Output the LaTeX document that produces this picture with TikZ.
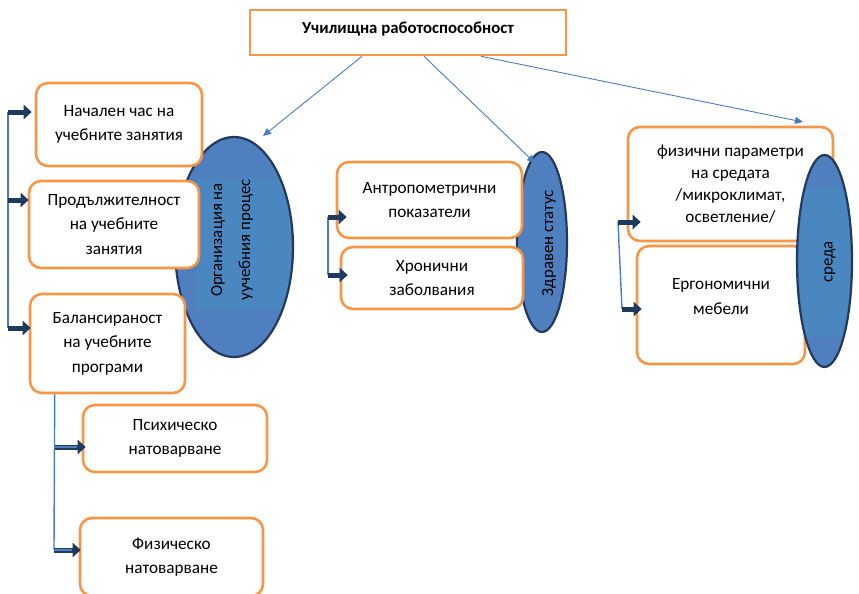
\documentclass[tikz,border=0pt]{standalone}
\usepackage{fontspec}
\setmainfont{Carlito}
\usetikzlibrary{arrows.meta,calc,shapes.geometric}
\definecolor{boxorange}{HTML}{F79646}
\definecolor{ovalblue}{HTML}{4F7FBE}
\definecolor{innerblue}{HTML}{4A87C0}
\definecolor{ovalnavy}{HTML}{213A5E}
\definecolor{linkblue}{HTML}{4A7CC2}
\definecolor{arrownavy}{HTML}{1F3A5F}
\begin{document}
\begin{tikzpicture}[x=1pt,y=-1pt,
  box/.style={draw=boxorange, line width=2.6pt, rounded corners=12pt, fill=white, align=center, inner sep=0pt, font=\fontsize{17.2}{24.5}\selectfont},
  topbox/.style={draw=boxorange, line width=2.6pt, fill=white, inner sep=0pt, font=\bfseries\fontsize{16.8}{18}\selectfont},
  oval/.style={ellipse, draw=ovalnavy, line width=2.2pt, fill=ovalblue, inner sep=0pt},
  ovaltext/.style={rotate=90, align=center, inner sep=0pt, font=\fontsize{16.8}{28}\selectfont},
  thinarrow/.style={draw=linkblue, line width=0.9pt, -{Triangle[length=8pt,width=7pt]}},
  bracket/.style={draw=linkblue, line width=1.4pt},
  fatarrow/.style={draw=arrownavy, line width=5pt, -{Triangle[length=8pt,width=14pt]}},
  fatinner/.style={draw=ovalblue, line width=1.8pt}
]
\useasboundingbox (0,0) rectangle (859,594);

% ovals behind the boxes
\node[oval, minimum width=118pt, minimum height=220pt,
  path picture={\fill[innerblue] ($(path picture bounding box.center)+(-38,-69)$) rectangle ++(95,132);}]
  (E1) at (234,247) {};
\node[ovaltext] (E1t) at (232,240) {Организация на\\уучебния процес};
\node[oval, minimum width=50pt, minimum height=180pt] (E2) at (542,242) {};
\node[ovaltext] (E2t) at (549,243) {Здравен статус};

% title
\node[topbox, minimum width=316pt, minimum height=45pt, text depth=9.5pt] (T) at (408,32.5) {Училищна работоспособност};

% boxes
\node[box, minimum width=166pt, minimum height=83pt] (B1) at (119,124.5) {Начален час на\\учебните занятия};
\node[box, minimum width=170pt, minimum height=87pt] (B2) at (114,224.5) {Продължителност\\на учебните\\занятия};
\node[box, minimum width=155pt, minimum height=99pt] (B3) at (107.5,343.5) {Балансираност\\на учебните\\програми};
\node[box, minimum width=184pt, minimum height=67pt] (B4) at (175,438.5) {Психическо\\натоварване};
\node[box, minimum width=183pt, minimum height=78pt] (B5) at (171.5,557) {Физическо\\натоварване};
\node[box, minimum width=185pt, minimum height=76pt] (B6) at (429.5,200) {Антропометрични\\показатели};
\node[box, minimum width=182pt, minimum height=62pt] (B7) at (432,278) {Хронични\\заболвания};
\node[box, minimum width=205pt, minimum height=114pt, font=\fontsize{17.2}{22}\selectfont] (B8) at (730.5,184) {физични параметри\\на средата\\/микроклимат,\\осветление/};
\node[box, minimum width=168pt, minimum height=118pt, text depth=17pt] (B9) at (721,305) {Ергономични\\мебели};

% oval in front of the right boxes
\node[oval, minimum width=55pt, minimum height=212pt,
  path picture={\fill[innerblue] ($(path picture bounding box.center)+(-24.5,-74)$) rectangle ++(50,150);}]
  (E3) at (824.5,261) {};
\node[ovaltext] (E3t) at (830,262) {среда};

% arrows from the title
\coordinate (s1) at ($(T.south)+(-46,0)$);
\coordinate (s2) at ($(T.south)+(16,0)$);
\coordinate (s3) at ($(T.south)+(73,0)$);
\coordinate (e1) at (263,136);
\coordinate (e2) at (535,163);
\coordinate (e3) at (803,122);
\draw[thinarrow] (s1) -- (e1);
\draw[thinarrow] (s2) -- (e2);
\draw[thinarrow] (s3) -- (e3);

% left bracket
\coordinate (l1) at (8,112);
\coordinate (l2) at (8,200);
\coordinate (l3) at (8,328);
\draw[bracket] (l1) -- (l3);
\draw[fatarrow] (l1) -- ($(B1.west |- l1)+(-3,0)$);
\draw[fatarrow] (l2) -- ($(B2.west |- l2)+(1,0)$);
\draw[fatarrow] (l3) -- ($(B3.west |- l3)+(2,0)$);

% bracket under B3
\coordinate (d0) at ($(B3.south west)+(26,0)$);
\coordinate (d1) at (55,447);
\coordinate (d2) at (54,550);
\draw[bracket] (d0) -- (d2);
\draw[fatarrow] (d1) -- ($(B4.west |- d1)+(4,0)$);
\draw[fatinner] (d1) -- ($(B4.west |- d1)+(-5,0)$);
\draw[fatarrow] (d2) -- ($(B5.west |- d2)+(2,0)$);
\draw[fatinner] (d2) -- ($(B5.west |- d2)+(-7,0)$);

% middle bracket
\coordinate (m1) at (328,217);
\coordinate (m2) at (328,275);
\draw[bracket] (m1) -- (m2);
\draw[fatarrow] (m1) -- ($(B6.west |- m1)+(11,0)$);
\draw[fatarrow] (m2) -- ($(B7.west |- m2)+(8,0)$);

% right bracket
\coordinate (r1) at (618,222);
\coordinate (r2) at (622,309);
\draw[bracket] (r1) -- (r2);
\draw[fatarrow] (r1) -- ($(B8.west |- r1)+(14,0)$);
\draw[fatarrow] (r2) -- ($(B9.west |- r2)+(6,0)$);
\end{tikzpicture}
\end{document}
